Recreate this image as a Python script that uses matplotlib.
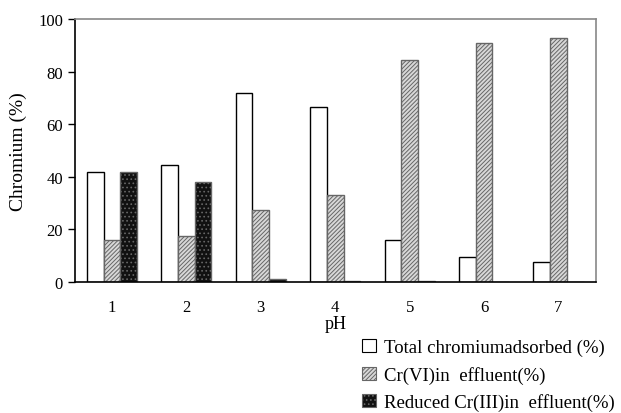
import matplotlib
matplotlib.use("Agg")
import matplotlib.pyplot as plt
import numpy as np
from matplotlib.patches import Patch

plt.rcParams['font.family'] = ['Liberation Serif', 'DejaVu Serif']
plt.rcParams['hatch.linewidth'] = 0.7

ph = [1, 2, 3, 4, 5, 6, 7]
total_adsorbed = [41.8, 44.6, 72.0, 66.4, 16.0, 9.5, 7.5]
cr6_effluent = [16.0, 17.4, 27.3, 33.2, 84.3, 90.7, 92.6]
cr3_effluent = [41.8, 38.1, 1.0, 0.3, 0.3, 0.0, 0.0]
labels = ['Total chromiumadsorbed (%)', 'Cr(VI)in  effluent(%)', 'Reduced Cr(III)in  effluent(%)']

fig = plt.figure(figsize=(6.21, 4.14), dpi=100)
ax = fig.add_axes([74.7/621, 1-283/414, (595.7-74.7)/621, (283-20)/414])

x = np.array(ph, dtype=float)
w = 0.225
ax.bar(x - w, total_adsorbed, w, facecolor='white', edgecolor='black', linewidth=1.0)
ax.bar(x, cr6_effluent, w, facecolor='#d8d8d8', edgecolor='#666666', hatch='////////', linewidth=1.0)
ax.bar(x + w, cr3_effluent, w, facecolor='#111111', edgecolor='#666666', hatch='....', linewidth=1.0)

ax.set_xlim(0.5, 7.5)
ax.set_ylim(0, 100)
ax.set_yticks([0, 20, 40, 60, 80, 100])
ax.set_xticks(ph)
ax.tick_params(axis='x', length=0, labelsize=12, pad=12)
ax.tick_params(axis='y', direction='out', length=5, labelsize=12, width=1)
for s in ['top', 'right']:
    ax.spines[s].set_color('#888888')
    ax.spines[s].set_linewidth(1.2)
for s in ['left', 'bottom']:
    ax.spines[s].set_color('black')
    ax.spines[s].set_linewidth(1.2)

ax.set_ylabel('Chromium (%)', fontsize=14, labelpad=8)
ax.set_xlabel('pH', fontsize=13, labelpad=0)

handles = [
    Patch(facecolor='white', edgecolor='black', linewidth=0.8),
    Patch(facecolor='#d8d8d8', edgecolor='#666666', hatch='////////', linewidth=0.8),
    Patch(facecolor='#111111', edgecolor='#666666', hatch='....', linewidth=0.8),
]
fig.legend(handles, labels, loc='lower right', bbox_to_anchor=(0.993, 0.0),
           frameon=False, fontsize=13.5, handlelength=0.7, handleheight=0.7,
           handletextpad=0.45, labelspacing=0.5, borderaxespad=0.0, borderpad=0.1)

fig.savefig('out.png', dpi=100)
